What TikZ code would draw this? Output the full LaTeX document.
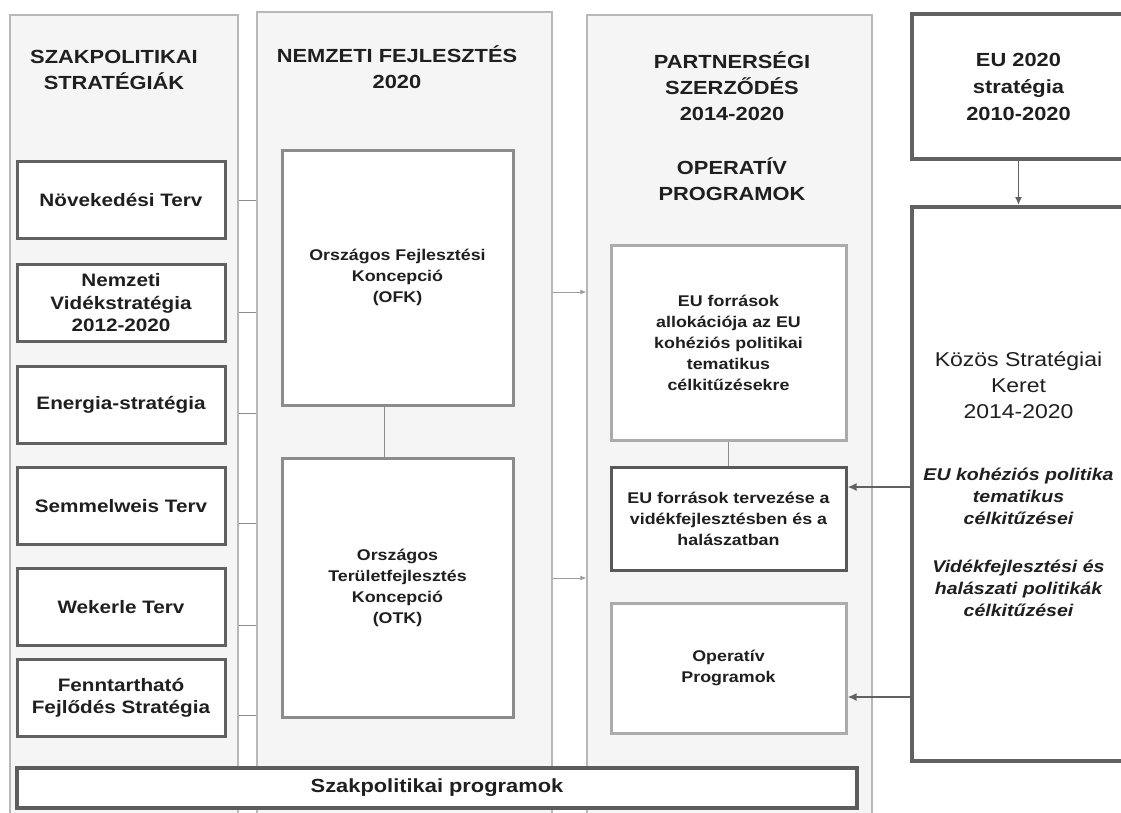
\documentclass[tikz,border=0pt]{standalone}
\usepackage{fontspec}
\setmainfont{Liberation Sans}[FakeStretch=1.15]
\usepackage{tikz}
\usetikzlibrary{calc}
\usetikzlibrary{positioning}
\usetikzlibrary{arrows.meta}

\newcommand{\goalline}[1]{{\fontsize{17}{22}\selectfont\bfseries\itshape #1}}

\begin{document}
\begin{tikzpicture}[x=1pt, y=-1pt, thick,
    panel/.style={shape=rectangle, draw=black!28, line width=1.2pt, fill=black!4, inner sep=0pt},
    headline/.style={text=black!88, align=center, font=\fontsize{19}{26}\selectfont\bfseries},
    strat/.style={shape=rectangle, draw=black!62, line width=3pt, fill=white, minimum width=208pt, minimum height=77pt, inner sep=0pt, text=black!88, align=center, font=\fontsize{18}{22.5}\selectfont\bfseries},
    concept/.style={shape=rectangle, draw=black!45, line width=3pt, fill=white, minimum width=231pt, inner sep=0pt, text=black!88, align=center, font=\fontsize{15.5}{21}\selectfont\bfseries},
    opbox/.style={concept, draw=black!33, minimum width=235pt},
    eubox/.style={shape=rectangle, draw=black!62, line width=4pt, fill=white, minimum width=213pt, inner sep=0pt, text=black!88, align=center},
    tick/.style={draw=black!45, line width=1pt},
    flow/.style={draw=black!38, line width=1pt, -{Latex[length=6pt,width=5pt]}},
    feed/.style={draw=black!62, line width=2pt, -{Latex[length=9pt,width=8pt]}}]

        \fill[white] (0,0) rectangle (1121,812);
        \useasboundingbox (0,0) rectangle (1121,812);

        % columns
        \node (lpan) at (124,417.5) [panel, minimum width=228pt, minimum height=805pt] {};
        \node (mpan) at (404.5,416) [panel, minimum width=295pt, minimum height=808pt] {};
        \node (ppan) at (729.5,417.5) [panel, minimum width=285pt, minimum height=805pt] {};

        % column titles
        \node (ltitle) at (114,70) [headline] {SZAKPOLITIKAI\\STRATÉGIÁK};
        \node (mtitle) at (397,67) [headline] {NEMZETI FEJLESZTÉS\\2020};
        \node (ptitle) at (732,86) [headline] {PARTNERSÉGI\\SZERZŐDÉS\\2014-2020};
        \node (optitle) at (732,179) [headline] {OPERATÍV\\PROGRAMOK};

        % sectoral strategies
        \node (s1) at (121,200) [strat] {Növekedési Terv};
        \node (s2) at (121,303) [strat] {Nemzeti\\Vidékstratégia\\2012-2020};
        \node (s3) at (121,405) [strat] {Energia-stratégia};
        \node (s4) at (121,506) [strat] {Semmelweis Terv};
        \node (s5) at (121,607) [strat] {Wekerle Terv};
        \node (s6) at (121,698) [strat] {Fenntartható\\Fejlődés Stratégia};

        % national concepts
        \node (ofk) at (397.5,277.5) [concept, minimum height=255pt] {Országos Fejlesztési\\Koncepció\\(OFK)};
        \node (otk) at (397.5,587.5) [concept, minimum height=259pt] {Országos\\Területfejlesztés\\Koncepció\\(OTK)};

        % partnership agreement
        \node (alloc) at (728.5,342.5) [opbox, minimum height=195pt] {EU források\\allokációja az EU\\kohéziós politikai\\tematikus\\célkitűzésekre};
        \node (terv) at (728.5,518.5) [opbox, draw=black!65, minimum height=103pt] {EU források tervezése a\\vidékfejlesztésben és a\\halászatban};
        \node (oprog) at (728.5,668) [opbox, minimum height=130pt] {Operatív\\Programok};

        % EU level
        \node (eu2020) at (1018.5,86.5) [eubox, minimum height=145pt, font=\fontsize{19}{27}\selectfont\bfseries] {EU 2020\\stratégia\\2010-2020};
        \node (kozos) at (1018.5,484) [eubox, minimum height=554pt, font=\fontsize{20}{22}\selectfont] {Közös Stratégiai\\[4pt]Keret\\[4pt]2014-2020\\[40pt]\goalline{EU kohéziós politika}\\\goalline{tematikus}\\\goalline{célkitűzései}\\[26pt]\goalline{Vidékfejlesztési és}\\\goalline{halászati politikák}\\\goalline{célkitűzései}};

        % programmes
        \node (prog) at (437,788) [strat, minimum width=840pt, minimum height=40pt, draw=black!64, line width=3.5pt, font=\fontsize{19}{24}\selectfont\bfseries] {Szakpolitikai programok};

        % connections
        \foreach \y in {200,312,413,523,625,715}
            \draw[tick] (lpan.east |- 0,\y) -- (mpan.west |- 0,\y);
        \draw[tick] ([xshift=-13pt]ofk.south) -- ([xshift=-13pt]otk.north);
        \draw[tick] (alloc.south) -- (terv.north);
        \draw[flow] (mpan.east |- 0,292) -- (ppan.west |- 0,292);
        \draw[flow] (mpan.east |- 0,578) -- (ppan.west |- 0,578);
        \draw[feed, line width=1.5pt, -{Latex[length=8pt,width=7pt]}] (eu2020.south) -- (kozos.north);
        \draw[feed] (kozos.west |- 0,487) -- (terv.east |- 0,487);
        \draw[feed] (kozos.west |- 0,697) -- (oprog.east |- 0,697);
    \end{tikzpicture}
\end{document}
